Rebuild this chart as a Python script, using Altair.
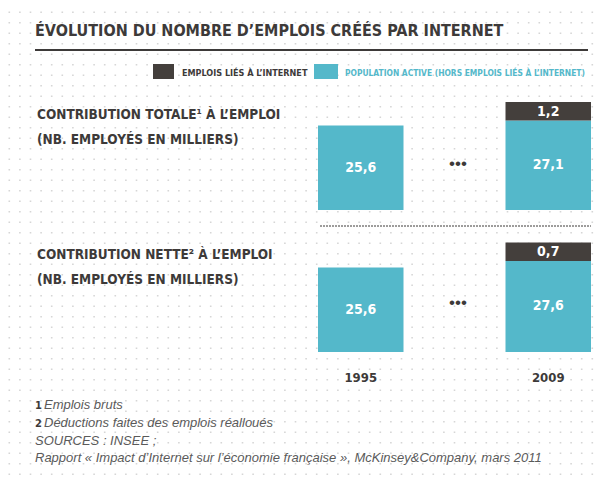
import altair as alt
import pandas as pd

# ---------------- data ----------------
years = ["1995", "2009"]
population_totale = [25.6, 27.1]   # population active (hors emplois liés à l'internet)
internet_totale = [None, 1.2]      # emplois liés à l'internet
population_nette = [25.6, 27.6]
internet_nette = [None, 0.7]

title_text = "ÉVOLUTION DU NOMBRE D’EMPLOIS CRÉÉS PAR INTERNET"
legend_labels = ["EMPLOIS LIÉS À L’INTERNET", "POPULATION ACTIVE (HORS EMPLOIS LIÉS À L’INTERNET)"]
heading_totale = ["CONTRIBUTION TOTALE¹ À L’EMPLOI", "(NB. EMPLOYÉS EN MILLIERS)"]
heading_nette = ["CONTRIBUTION NETTE² À L’EMPLOI", "(NB. EMPLOYÉS EN MILLIERS)"]
footnotes = [
    ("1", "Emplois bruts"),
    ("2", "Déductions faites des emplois réalloués"),
    ("", "SOURCES : INSEE ;"),
    ("", "Rapport « Impact d’Internet sur l’économie française », McKinsey&Company, mars 2011"),
]

# ---------------- style ----------------
DARK = "#443f3c"
TEAL = "#54b8ca"
TXT = "#3d3a39"
GREY = "#5a5a5a"
COND = "DejaVu Sans Condensed, sans-serif"
SANS = "Liberation Sans, Helvetica, Arial, sans-serif"
W, H = 587, 468

xscale = alt.Scale(domain=years, range=[310, 583], paddingInner=0.544, paddingOuter=0)


def fmt(expr):
    return f"replace(format({expr}, '.1f'), '.', ',')"


def text_layer(text, x, y, size, color=TXT, font=COND, weight="bold", style="normal", align="left"):
    return alt.Chart(alt.Data(values=[{"t": text}])).mark_text(
        align=align, baseline="alphabetic", fontSize=size, font=font,
        fontWeight=weight, fontStyle=style, color=color
    ).encode(x=alt.value(x), y=alt.value(y), text="t:N")


def panel(pop, net, base, top, dots_y):
    df = pd.DataFrame({"year": years, "pop": pop, "net": net})
    ysc = alt.Scale(domain=[0, 30], range=[base, top])
    b = alt.Chart(df)
    xenc = alt.X("year:N", scale=xscale, axis=None)
    teal = b.mark_bar(color=TEAL).encode(
        x=xenc,
        y=alt.Y("pop:Q", scale=ysc, axis=None),
        y2=alt.datum(0),
    )
    dark = b.transform_filter("isValid(datum.net)").mark_bar(color=DARK, y2Offset=-18.5).encode(
        x=xenc,
        y=alt.Y("pop:Q", scale=ysc, axis=None),
        y2="pop:Q",
    )
    teal_lab = b.transform_calculate(lab=fmt("datum.pop"), mid="datum.pop / 2").mark_text(
        color="white", font=COND, fontWeight="bold", fontSize=14, baseline="middle"
    ).encode(
        x=xenc,
        y=alt.Y("mid:Q", scale=ysc, axis=None),
        text="lab:N",
    )
    dark_lab = b.transform_filter("isValid(datum.net)").transform_calculate(lab=fmt("datum.net")).mark_text(
        color="white", font=COND, fontWeight="bold", fontSize=14, baseline="middle", dy=-9
    ).encode(
        x=xenc,
        y=alt.Y("pop:Q", scale=ysc, axis=None),
        text="lab:N",
    )
    dots = text_layer("•••", 450, dots_y, 17, color=TXT, font=SANS, weight="normal", align="center")
    return alt.layer(teal, dark, teal_lab, dark_lab, dots)


# dotted background grid
grid = alt.Chart(alt.sequence(0, 45, as_="row")).mark_rule(
    color="#d6d6d6", strokeWidth=1.6, strokeDash=[1.6, 9.0], strokeDashOffset=-0.5
).encode(
    y=alt.Y("row:Q", scale=alt.Scale(domain=[0, 44], range=[4.2, 4.2 + 44 * 10.5]), axis=None),
    x=alt.value(0),
    x2=alt.value(W),
)

layers = [grid]
layers.append(text_layer(title_text, 27, 28, 16))
layers.append(alt.Chart(alt.Data(values=[{}])).mark_rule(color=TXT, strokeWidth=2).encode(
    x=alt.value(27), x2=alt.value(580), y=alt.value(42)))
# legend
layers.append(alt.Chart(alt.Data(values=[{}])).mark_rect(color=DARK).encode(
    x=alt.value(145), x2=alt.value(166), y=alt.value(56), y2=alt.value(71)))
layers.append(text_layer(legend_labels[0], 174, 68, 9, color=TXT))
layers.append(alt.Chart(alt.Data(values=[{}])).mark_rect(color=TEAL).encode(
    x=alt.value(306), x2=alt.value(330), y=alt.value(56), y2=alt.value(71)))
layers.append(text_layer(legend_labels[1], 337, 68, 8.4, color=TEAL))
# headings
layers.append(text_layer(heading_totale[0], 29, 111, 13.5))
layers.append(text_layer(heading_totale[1], 29, 136, 13.5))
layers.append(text_layer(heading_nette[0], 29, 251, 13.5))
layers.append(text_layer(heading_nette[1], 29, 276, 13.5))
# separator
layers.append(alt.Chart(alt.Data(values=[{}])).mark_rule(color=TXT, strokeWidth=1, strokeDash=[2, 1]).encode(
    x=alt.value(312), x2=alt.value(583), y=alt.value(218)))
# footnotes
fy = [401, 419, 437, 454]
for (num, note), yy in zip(footnotes, fy):
    if num:
        layers.append(text_layer(num, 27, yy, 11, color=TXT))
        layers.append(text_layer(note, 36, yy, 13, color=GREY, font=SANS, weight="normal", style="italic"))
    else:
        layers.append(text_layer(note, 27, yy, 13, color=GREY, font=SANS, weight="normal", style="italic"))

p1 = panel(population_totale, internet_totale, 202, 103, 161)
p2 = panel(population_nette, internet_nette, 344, 245, 300)

years_lab = alt.Chart(pd.DataFrame({"year": years})).mark_text(
    font=COND, fontWeight="bold", fontSize=13, color=TXT, baseline="alphabetic"
).encode(x=alt.X("year:N", scale=xscale, axis=None), y=alt.value(374), text="year:N")

chart = alt.layer(*layers, p1, p2, years_lab).resolve_scale(y="independent").properties(
    width=W, height=H, autosize=alt.AutoSizeParams(type="none"), padding=0, background="white"
).configure_view(strokeWidth=0)

chart.save("out.html", embed_options={"renderer": "svg", "actions": False})
